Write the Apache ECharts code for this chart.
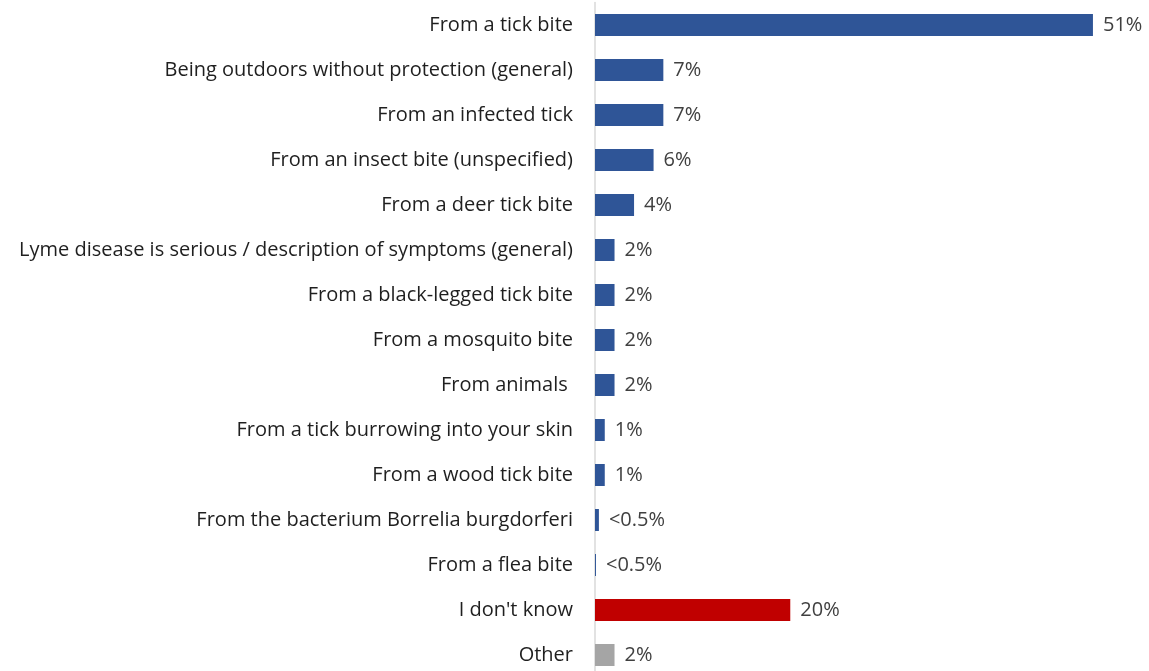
<!DOCTYPE html>
<html>
<head>
<meta charset="utf-8">
<script src="https://cdn.jsdelivr.net/npm/echarts@6/dist/echarts.min.js"></script>
<style>
  html, body { margin: 0; padding: 0; background: #fff; }
  #chart { width: 1149px; height: 671px; }
</style>
</head>
<body>
<div id="chart"></div>
<script>
// Answers, top to bottom
const categories = [
  'From a tick bite',
  'Being outdoors without protection (general)',
  'From an infected tick',
  'From an insect bite (unspecified)',
  'From a deer tick bite',
  'Lyme disease is serious / description of symptoms (general)',
  'From a black-legged tick bite',
  'From a mosquito bite',
  'From animals ',
  'From a tick burrowing into your skin',
  'From a wood tick bite',
  'From the bacterium Borrelia burgdorferi',
  'From a flea bite',
  "I don't know",
  'Other'
];
// Percent of respondents
const values = [51, 7, 7, 6, 4, 2, 2, 2, 2, 1, 1, 0.4, 0.1, 20, 2];
// Printed labels
const valueLabels = ['51%', '7%', '7%', '6%', '4%', '2%', '2%', '2%', '2%', '1%', '1%', '<0.5%', '<0.5%', '20%', '2%'];
// Bar group per row: answer / don't know / other
const groups = ['a', 'a', 'a', 'a', 'a', 'a', 'a', 'a', 'a', 'a', 'a', 'a', 'a', 'dk', 'other'];
const groupColors = { a: '#2F5597', dk: '#C00000', other: '#A5A5A5' };

const chart = echarts.init(document.getElementById('chart'), null, { renderer: 'canvas' });
const FONT = 'Open Sans';

chart.setOption({
  animation: false,
  grid: { left: 595, right: 17, top: 2.5, height: 675, containLabel: false, outerBoundsMode: 'none' },
  xAxis: {
    type: 'value', min: 0, max: 55,
    show: false
  },
  yAxis: {
    type: 'category',
    inverse: true,
    data: categories,
    axisLine: { show: true, lineStyle: { color: '#D9D9D9', width: 1.5 } },
    axisTick: { show: false },
    axisLabel: { color: '#1f1f1f', fontSize: 20, fontFamily: FONT, margin: 22 }
  },
  series: [{
    type: 'bar',
    barWidth: 22,
    data: values.map((v, i) => ({ value: v, itemStyle: { color: groupColors[groups[i]] } })),
    label: {
      show: true, position: 'right', distance: 10,
      color: '#404040', fontSize: 20, fontFamily: FONT,
      formatter: p => valueLabels[p.dataIndex]
    }
  }]
});
</script>
</body>
</html>
